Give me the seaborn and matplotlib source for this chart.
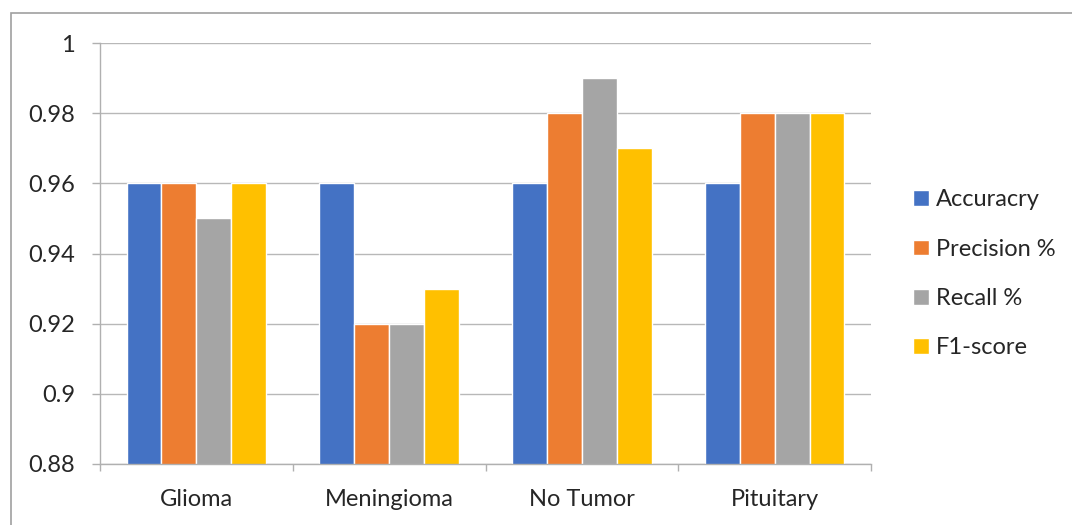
import pandas as pd
import matplotlib.pyplot as plt
from matplotlib.patches import Rectangle
import seaborn as sns

# data
classes = ['Glioma', 'Meningioma', 'No Tumor', 'Pituitary']
metrics = ['Accuracry', 'Precision %', 'Recall %', 'F1-score']
accuracy = [0.96, 0.96, 0.96, 0.96]
precision = [0.96, 0.92, 0.98, 0.98]
recall = [0.95, 0.92, 0.99, 0.98]
f1 = [0.96, 0.93, 0.97, 0.98]
colors = ['#4472C4', '#ED7D31', '#A5A5A5', '#FFC000']

rows = []
for m, vals in zip(metrics, [accuracy, precision, recall, f1]):
    for c, v in zip(classes, vals):
        rows.append({'cls': c, 'metric': m, 'value': v})
df = pd.DataFrame(rows)

sns.set_style("white")
plt.rcParams['font.family'] = ['Lato', 'DejaVu Sans']
fs = 17

fig = plt.figure(figsize=(10.72, 5.25), dpi=100)
ax = fig.add_axes([100/1072, 1-464/525, 771/1072, 421/525])

sns.barplot(data=df, x='cls', y='value', hue='metric', palette=colors,
            width=0.725, saturation=1, ax=ax, legend=True)

ax.set_ylim(0.88, 1.0)
ax.set_xlim(-0.5, 3.5)
yt = [0.88, 0.9, 0.92, 0.94, 0.96, 0.98, 1.0]
ax.set_yticks(yt)
ax.set_yticklabels(['0.88', '0.9', '0.92', '0.94', '0.96', '0.98', '1'], fontsize=fs)
ax.yaxis.grid(True, color='#B8B8B8', linewidth=1)
ax.set_axisbelow(True)
ax.tick_params(axis='y', length=6, width=1, color='#B0B0B0', pad=12, left=True)
ax.tick_params(axis='x', which='major', length=0, pad=18, labelsize=fs)
ax.set_xticks([-0.5, 0.5, 1.5, 2.5, 3.5], minor=True)
ax.tick_params(axis='x', which='minor', length=5, width=1, color='#B0B0B0', bottom=True)
ax.set_xlabel('')
ax.set_ylabel('')
for s in ['top', 'right']:
    ax.spines[s].set_visible(False)
for s in ['left', 'bottom']:
    ax.spines[s].set_color('#B0B0B0')
    ax.spines[s].set_linewidth(1)

ax.legend(loc='center left', bbox_to_anchor=(892/1072, 1-274/525),
          bbox_transform=fig.transFigure, frameon=False, fontsize=fs,
          handlelength=0.65, handleheight=0.65, handletextpad=0.3,
          labelspacing=1.2)

fig.patches.append(Rectangle((11/1072, -0.05), 1.2, 1-13/525+0.05,
                             transform=fig.transFigure, fill=False,
                             edgecolor='#A0A0A0', linewidth=1.2, zorder=0))

plt.savefig('out.png', dpi=100)
